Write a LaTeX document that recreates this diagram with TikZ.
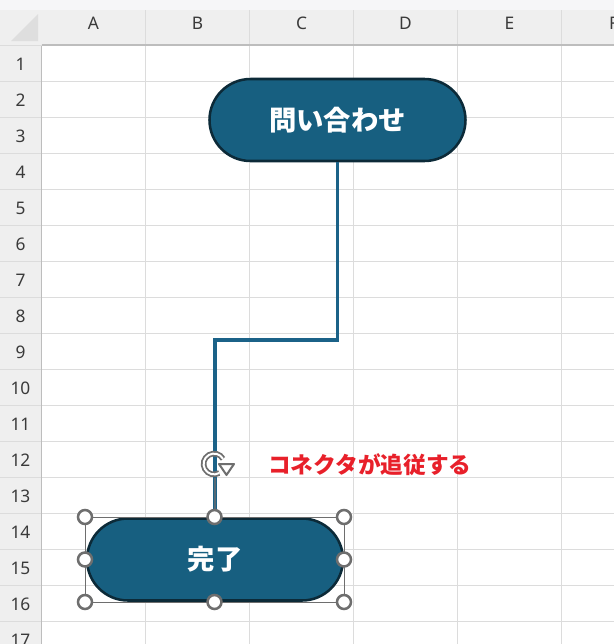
\documentclass[tikz,border=0pt]{standalone}
\usepackage{fontspec}
\setmainfont{Noto Sans}
\newfontfamily\jp{Noto Sans CJK JP}
\usetikzlibrary{shapes.misc}
\definecolor{hdrbg}{HTML}{EFEFEF}
\definecolor{topstrip}{HTML}{F6F6F8}
\definecolor{gridc}{HTML}{DCDCDC}
\definecolor{hdrline}{HTML}{BDBDBD}
\definecolor{hdrtxt}{HTML}{3A3A3A}
\definecolor{termfill}{HTML}{175F80}
\definecolor{termedge}{HTML}{0C2A38}
\definecolor{connc}{HTML}{1B6288}
\definecolor{handlec}{HTML}{6E6E6E}
\definecolor{notered}{HTML}{E8202A}
\definecolor{cornertri}{HTML}{DEDEDE}
\tikzset{
  hdr/.style={text=hdrtxt, font=\fontsize{13}{15}\selectfont, inner sep=0pt},
  term/.style={rounded rectangle, draw=termedge, fill=termfill, line width=1.9pt,
    minimum width=192pt, minimum height=61.5pt, inner sep=0pt, text=white,
    font=\jp\bfseries\fontsize{20.5}{24}\selectfont},
  conn/.style={draw=connc, line width=2.3pt},
  handle/.style={circle, draw=handlec, fill=white, line width=1.9pt, minimum size=10.5pt, inner sep=0pt},
  grid/.style={draw=gridc, line width=0.75pt},
}
\begin{document}
\begin{tikzpicture}[x=0.75pt,y=-0.75pt]
\useasboundingbox (0,0) rectangle (614,644);
\clip (0,0) rectangle (614,644);
\fill[white] (0,0) rectangle (614,644);
% headers
\fill[hdrbg] (0,0) rectangle (614,45);
\fill[hdrbg] (0,0) rectangle (41.5,644);
\fill[topstrip] (0,0) rectangle (614,10);
\fill[cornertri] (11,41) -- (38,41) -- (38,14) -- cycle;
% grid lines
\foreach \x in {145.5,249.5,353.5,457.5,561.5} {
  \draw[grid] (\x,10) -- (\x,644);
}
\foreach \k in {1,...,16} {
  \draw[grid] (0,45+36*\k) -- (614,45+36*\k);
}
\draw[draw=hdrline, line width=0.9pt] (41.5,45) -- (614,45);
\draw[draw=hdrline, line width=0.9pt] (41.5,45) -- (41.5,644);
\draw[draw=gridc, line width=0.75pt] (0,45) -- (41.5,45);
% column letters
\foreach \c [count=\i from 0] in {A,B,C,D,E,F} {
  \node[hdr] (col\c) at (93.5+104*\i,23) {\c};
}
% row numbers
\foreach \r in {1,...,17} {
  \node[hdr] (row\r) at (20.5,64.5+36*\r-36) {\r};
}
% shapes
\node[term] (q) at (337.5,120) {問い合わせ};
\node[term] (done) at (215,559.5) {完了};
\coordinate (bend) at (215,340);
\draw[conn] (q.south) |- (bend) -- (done.north);
% selection frame
\draw[draw=handlec, line width=0.75pt] (85,517) rectangle (344,602);
% rotation handle stem
\coordinate (rot) at (214,464);
\draw[draw=handlec!70!connc, line width=1.5pt] (215,478) -- (215,510);
% rotation icon
\draw[draw=handlec, line width=4.2pt] ([shift={(30:7.8pt)}]rot) arc[start angle=30, end angle=300, radius=7.8pt];
\draw[draw=white, line width=1.5pt] ([shift={(30:7.8pt)}]rot) arc[start angle=30, end angle=300, radius=7.8pt];
\draw[draw=handlec, fill=white, line width=1.5pt, line join=round] (219,464) -- (234,464) -- (226.5,475) -- cycle;
% handles
\foreach \hx/\hy [count=\n] in {85/517,214.5/517,344/517,85/559.5,344/559.5,85/602,214.5/602,344/602} {
  \node[handle] (h\n) at (\hx,\hy) {};
}
% note
\node[anchor=west, inner sep=0pt, text=notered, font=\jp\bfseries\fontsize{17}{20}\selectfont] (note) at (268,465) {コネクタが追従する};
\end{tikzpicture}
\end{document}
